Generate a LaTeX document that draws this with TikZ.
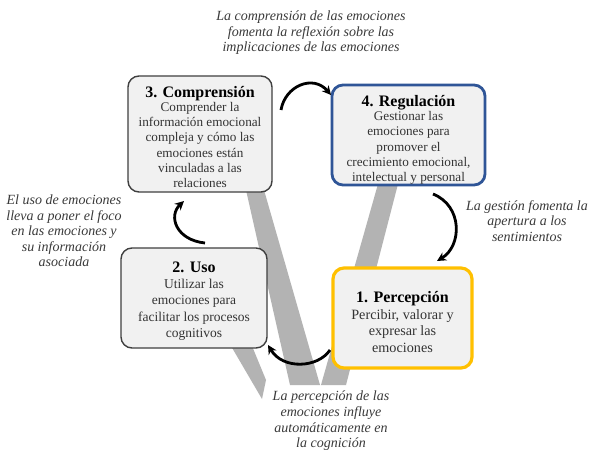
\documentclass[tikz,border=0pt]{standalone}
\usepackage{fontspec}
\setmainfont{Liberation Serif}
\usetikzlibrary{arrows.meta}
\definecolor{boxfill}{HTML}{F1F1F1}
\definecolor{boxline}{HTML}{3F3F3F}
\definecolor{bluebox}{HTML}{2F5597}
\definecolor{goldbox}{HTML}{FFC000}
\definecolor{band}{HTML}{B3B3B3}
\definecolor{bodytext}{HTML}{333333}
\definecolor{labeltext}{HTML}{3A3A3A}
\tikzset{
  card/.style={draw=boxline, line width=1.4pt, fill=boxfill, rounded corners=11pt, inner sep=0pt},
  boxtext/.style={inner sep=0pt, align=center, text=bodytext},
  smalltxt/.style={font=\fontsize{13.2}{15.3}\selectfont},
  bigtxt/.style={font=\fontsize{13.5}{16.3}\selectfont},
  bigger/.style={font=\fontsize{14.2}{16.5}\selectfont},
  note/.style={align=center, text=labeltext, font=\fontsize{14}{15.6}\selectfont\itshape},
  cyc/.style={line width=2.8pt, black, -{Stealth[length=9pt,width=9pt]}},
}
\newcommand{\ttl}[1]{{\fontsize{16}{18}\selectfont\bfseries\color{black}#1}}
\begin{document}
\begin{tikzpicture}[x=1pt,y=-1pt]
\useasboundingbox (0,0) rectangle (589,452);
\fill[white] (0,0) rectangle (589,452);
% background bands
\fill[band] (246,190) -- (264,190) -- (320,385) -- (290,385) -- cycle;
\fill[band] (378,184) -- (398,184) -- (346,385) -- (321,385) -- cycle;
\fill[band] (231,346) -- (252,346) -- (266,380) -- (262,399) -- cycle;
% boxes
\node[card, minimum width=144pt, minimum height=116pt] (b3) at (200,134) {};
\node[card, draw=bluebox, line width=2.8pt, minimum width=153pt, minimum height=100pt] (b4) at (408.5,135) {};
\node[card, minimum width=146pt, minimum height=100pt] (b2) at (194,298) {};
\node[card, draw=goldbox, line width=3.2pt, minimum width=139pt, minimum height=100pt] (b1) at (402.5,318) {};
% box texts
\node[boxtext, smalltxt] (t3) at ([yshift=-3pt]b3.center)
  {\ttl{3. Comprensión}\\[-1pt]Comprender la\\información emocional\\compleja y cómo las\\emociones están\\vinculadas a las\\relaciones};
\node[boxtext, smalltxt] (t4) at ([yshift=-5pt]b4.center)
  {\ttl{4. Regulación}\\[-1pt]Gestionar las\\emociones para\\promover el\\crecimiento emocional,\\intelectual y personal};
\node[boxtext, bigtxt] (t2) at ([yshift=-3pt]b2.center)
  {\ttl{2. Uso}\\Utilizar las\\emociones para\\facilitar los procesos\\cognitivos};
\node[boxtext, bigger] (t1) at ([yshift=-4pt]b1.center)
  {\ttl{1. Percepción}\\Percibir, valorar y\\expresar las\\emociones};
% cycle arrows
\coordinate (a1s) at (281,110);
\coordinate (a1e) at (331,95);
\coordinate (a2s) at (433,194);
\coordinate (a2e) at (437,261);
\coordinate (a3s) at (330,350);
\coordinate (a3e) at (268,345);
\coordinate (a4s) at (205,243);
\coordinate (a4e) at (184,201);
\draw[cyc] (a1s) .. controls (285,86) and (313,74) .. (a1e);
\draw[cyc] (a2s) .. controls (463,206) and (462,246) .. (a2e);
\draw[cyc] (a3s) .. controls (318,368) and (283,370) .. (a3e);
\draw[cyc] (a4s) .. controls (176,240) and (168,216) .. (a4e);
% labels
\node[note] (n1) at (311,33) {La comprensión de las emociones\\fomenta la reflexión sobre las\\implicaciones de las emociones};
\node[note] (n2) at (64,231) {El uso de emociones\\lleva a poner el foco\\en las emociones y\\su información\\asociada};
\node[note] (n3) at (527,221) {La gestión fomenta la\\apertura a los\\sentimientos};
\node[note] (n4) at (331,421) {La percepción de las\\emociones influye\\automáticamente en\\la cognición};
\end{tikzpicture}
\end{document}
